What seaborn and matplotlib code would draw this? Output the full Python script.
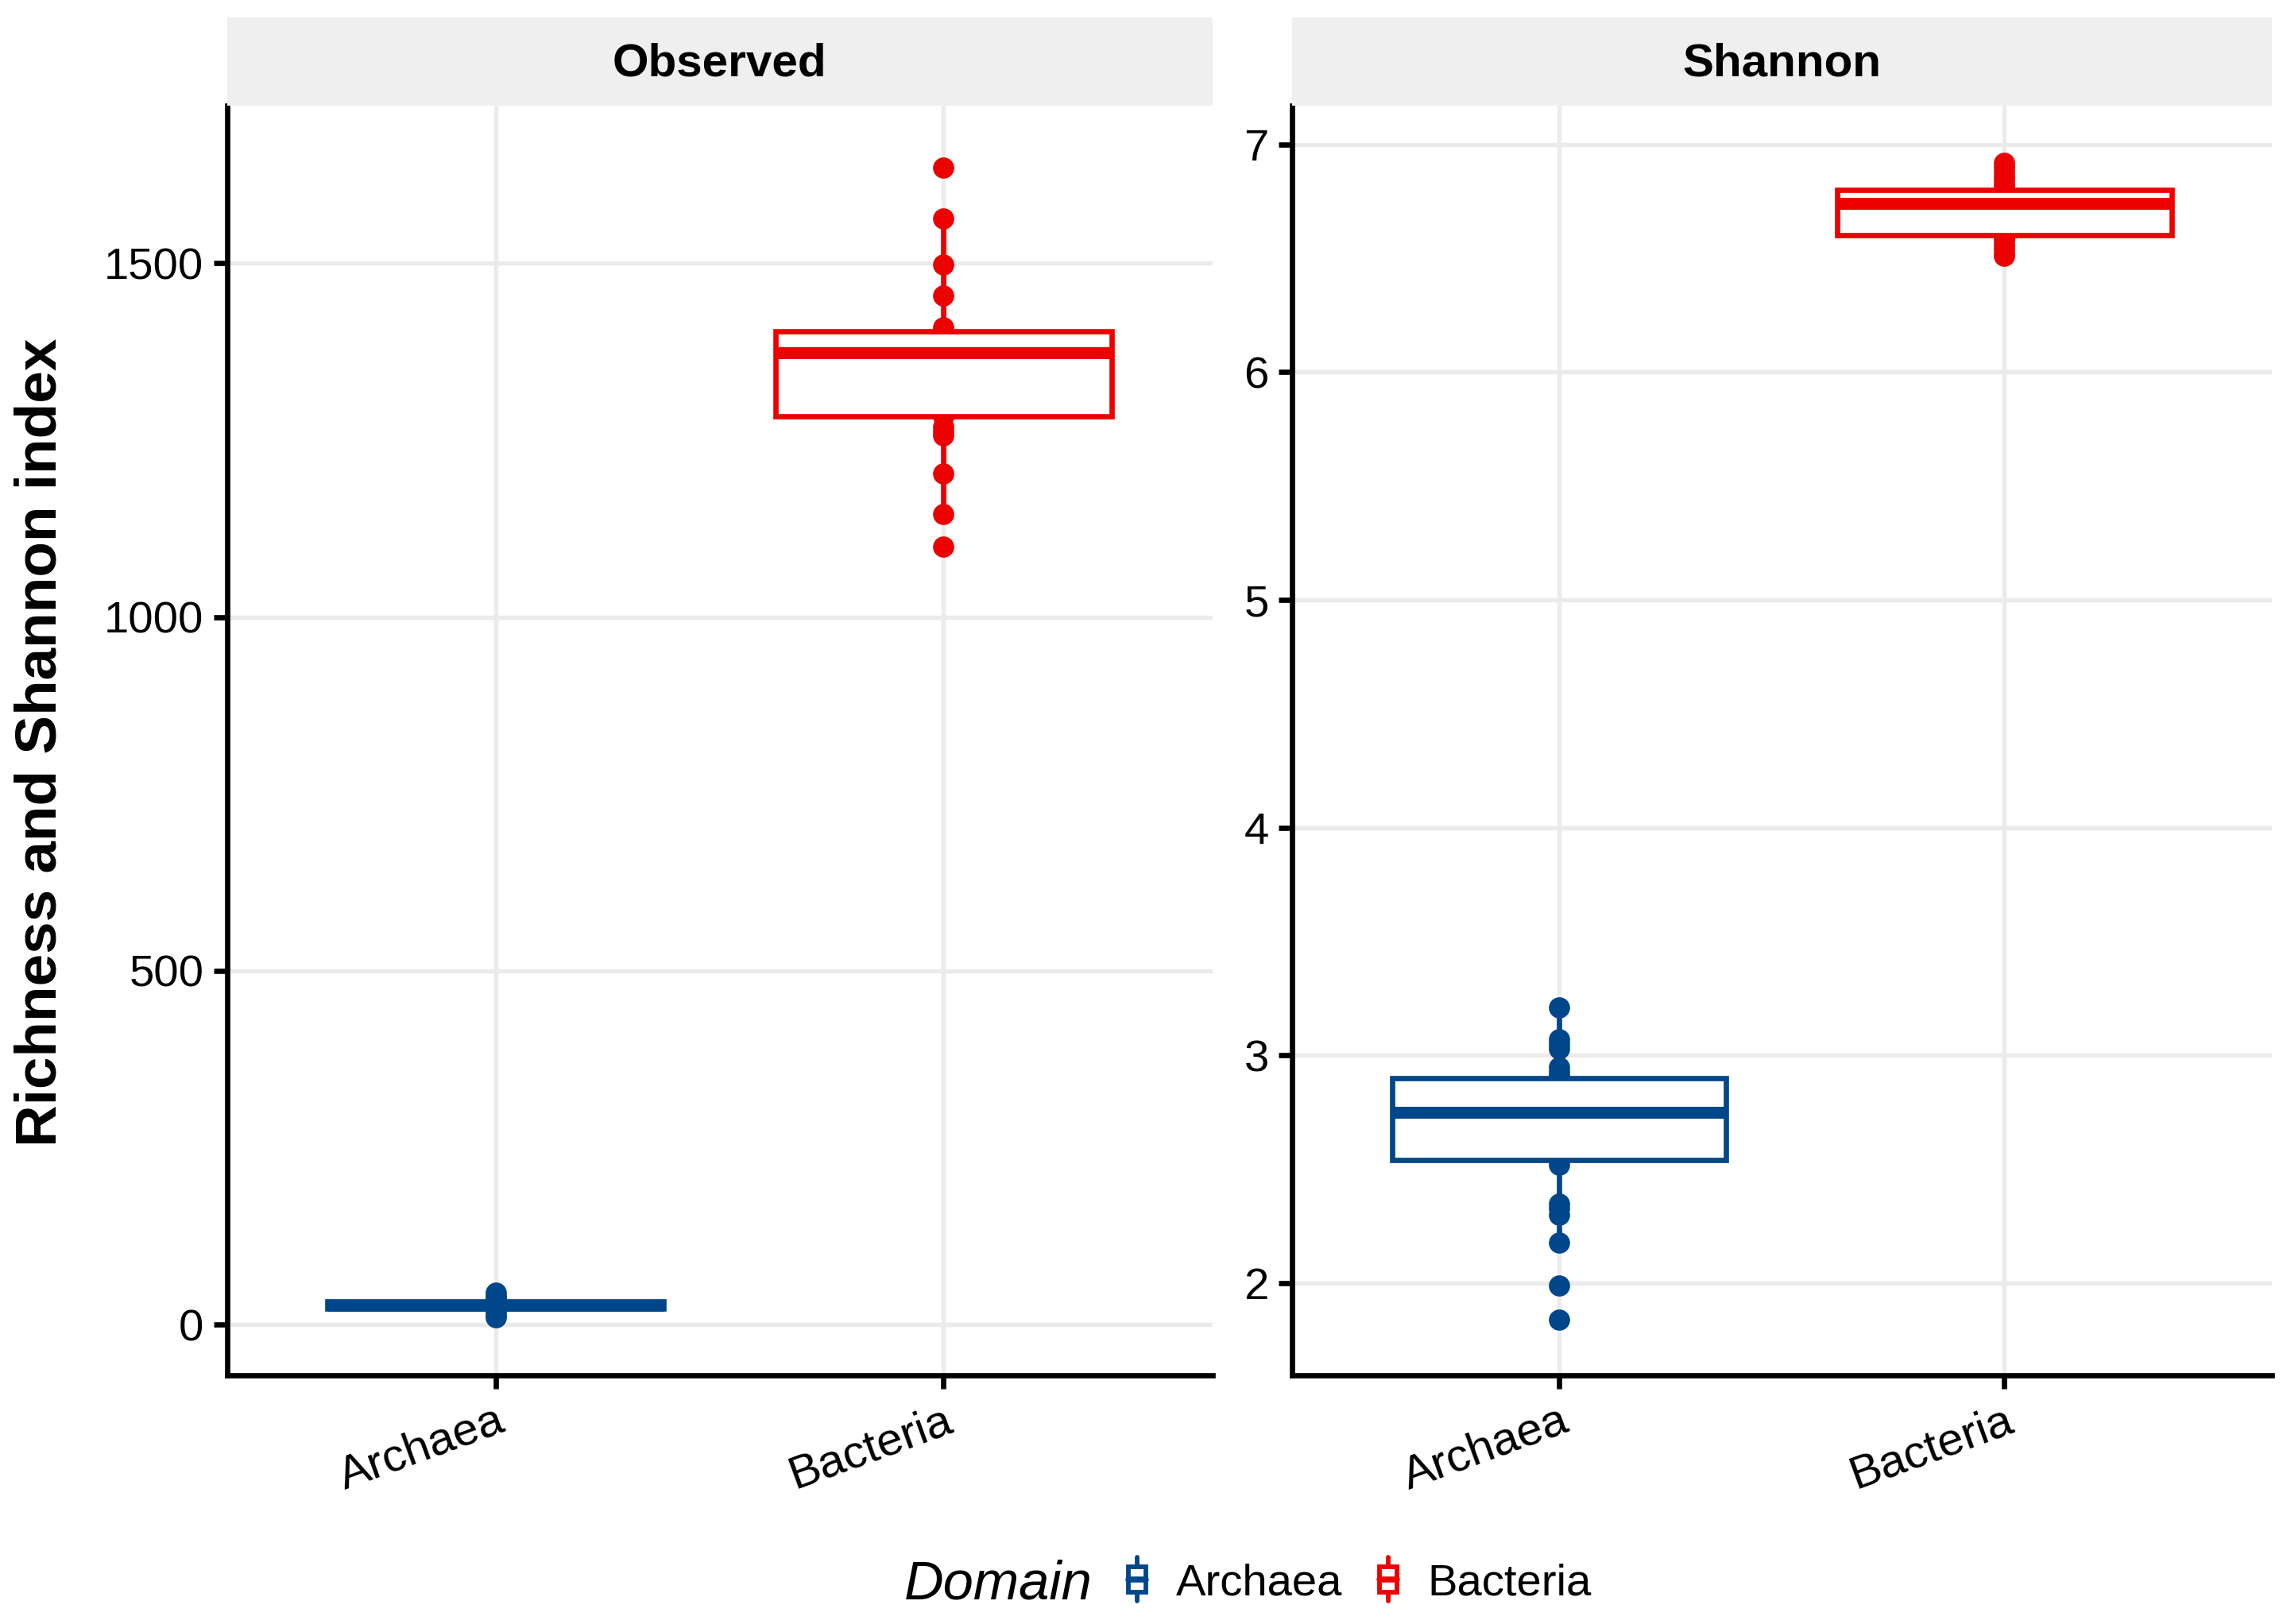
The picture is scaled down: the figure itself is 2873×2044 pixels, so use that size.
import numpy as np
import pandas as pd
import seaborn as sns
import matplotlib.pyplot as plt
from matplotlib.patches import Patch, Rectangle
from matplotlib.lines import Line2D
from matplotlib.legend_handler import HandlerBase

domains = ["Archaea", "Bacteria"]
metrics = ["Observed", "Shannon"]
palette = {"Archaea": "#00468B", "Bacteria": "#ED0000"}

# values (points hidden inside the boxes are estimates)
archaea_observed = [10, 14, 19, 22, 24, 26, 27, 28, 29, 31, 33, 36, 40, 45]
bacteria_observed = [1100, 1146, 1203, 1257, 1262, 1269, 1284, 1300, 1318, 1335,
                     1350, 1362, 1374, 1380, 1386, 1391, 1396, 1400, 1404, 1406,
                     1409, 1455, 1498, 1563, 1635]
archaea_shannon = [1.84, 1.99, 2.18, 2.30, 2.33, 2.35, 2.52, 2.54, 2.58, 2.62,
                   2.66, 2.69, 2.71, 2.73, 2.75, 2.77, 2.79, 2.82, 2.84, 2.86,
                   2.88, 2.90, 2.91, 2.93, 2.95, 3.03, 3.05, 3.07, 3.21]
bacteria_shannon = [6.51, 6.52, 6.54, 6.56, 6.58, 6.59, 6.60, 6.62, 6.65, 6.68,
                    6.70, 6.72, 6.74, 6.75, 6.76, 6.77, 6.78, 6.79, 6.80, 6.82,
                    6.84, 6.86, 6.88, 6.90, 6.92]

rows = []
for metric, domain, vals in [("Observed", "Archaea", archaea_observed),
                             ("Observed", "Bacteria", bacteria_observed),
                             ("Shannon", "Archaea", archaea_shannon),
                             ("Shannon", "Bacteria", bacteria_shannon)]:
    for v in vals:
        rows.append({"metric": metric, "Domain": domain, "value": v})
df = pd.DataFrame(rows)

ylims = {"Observed": (-72, 1723), "Shannon": (1.595, 7.17)}
yticks = {"Observed": [0, 500, 1000, 1500], "Shannon": [2, 3, 4, 5, 6, 7]}

sns.set_style("whitegrid")
plt.rcParams["font.family"] = ["Liberation Sans", "DejaVu Sans"]
plt.rcParams["text.color"] = "black"
plt.rcParams["axes.labelcolor"] = "black"
plt.rcParams["xtick.color"] = "black"
plt.rcParams["ytick.color"] = "black"


class MiniBox(HandlerBase):
    # small vertical boxplot glyph for the legend keys
    def create_artists(self, legend, orig_handle, xdescent, ydescent,
                       width, height, fontsize, trans):
        c = orig_handle.get_edgecolor()
        cx = -xdescent + width / 2
        y0 = -ydescent
        bw = width * 0.7
        whisk = Line2D([cx, cx], [y0 - 0.05 * height, y0 + 1.05 * height],
                       color=c, lw=1.4, transform=trans)
        box = Rectangle((cx - bw / 2, y0 + 0.18 * height), bw, 0.64 * height,
                        facecolor="white", edgecolor=c, lw=1.4, transform=trans)
        med = Line2D([cx - bw / 2, cx + bw / 2], [y0 + 0.5 * height] * 2,
                     color=c, lw=1.8, transform=trans)
        return [whisk, box, med]


fig = plt.figure(figsize=(2873 / 300, 2044 / 300), dpi=300)
positions = [(0.0994, 0.153, 0.4316, 0.782), (0.566, 0.153, 0.429, 0.782)]

for metric, pos in zip(metrics, positions):
    ax = fig.add_axes(pos)
    sub = df[df.metric == metric]
    for d in domains:
        part = sub[sub.Domain == d]
        sns.stripplot(data=part, x="Domain", y="value", order=domains,
                      jitter=False, color=palette[d], size=6.4, linewidth=0,
                      ax=ax, zorder=1)
        sns.boxplot(data=part, x="Domain", y="value", order=domains,
                    color="white", linecolor=palette[d], saturation=1,
                    linewidth=1.6, width=0.75, showcaps=False, showfliers=False,
                    medianprops=dict(linewidth=3.6), ax=ax)
    ax.set_xlim(-0.6, 1.6)
    ax.set_ylim(*ylims[metric])
    ax.set_yticks(yticks[metric])
    ax.set_xlabel("")
    ax.set_ylabel("")
    ax.grid(True, axis="both", color="#EBEBEB", linewidth=1.3)
    ax.set_axisbelow(True)
    for s in ["top", "right"]:
        ax.spines[s].set_visible(False)
    for s in ["left", "bottom"]:
        ax.spines[s].set_color("black")
        ax.spines[s].set_linewidth(1.6)
    ax.tick_params(axis="both", which="major", length=4, width=1.6,
                   color="black", labelsize=13.5, labelcolor="black",
                   left=True, bottom=True, pad=3)
    ax.tick_params(axis="x", labelsize=14)
    plt.setp(ax.get_xticklabels(), rotation=20, ha="right",
             rotation_mode="anchor")

    # facet strip
    sax = fig.add_axes((pos[0], 0.935, pos[2], 0.054))
    sax.set_facecolor("#EFEFEF")
    sax.set_xticks([])
    sax.set_yticks([])
    for s in sax.spines.values():
        s.set_visible(False)
    sax.text(0.5, 0.47, metric, ha="center", va="center",
             fontsize=14, fontweight="bold", transform=sax.transAxes)

fig.text(0.018, 0.543, "Richness and Shannon index", rotation=90,
         ha="center", va="center", fontsize=17.5, fontweight="bold")

handles = [Patch(facecolor="white", edgecolor=palette[d]) for d in domains]
fig.text(0.396, 0.024, "Domain", ha="left", va="center",
         fontsize=16.5, fontstyle="italic")
fig.legend(handles, domains, loc="center left", bbox_to_anchor=(0.475, 0.026),
           ncol=2, frameon=False, fontsize=13.5, handlelength=0.55,
           handleheight=1.0, handletextpad=0.6, columnspacing=0.75,
           handler_map={Patch: MiniBox()})

fig.savefig("out.png", dpi=300)
